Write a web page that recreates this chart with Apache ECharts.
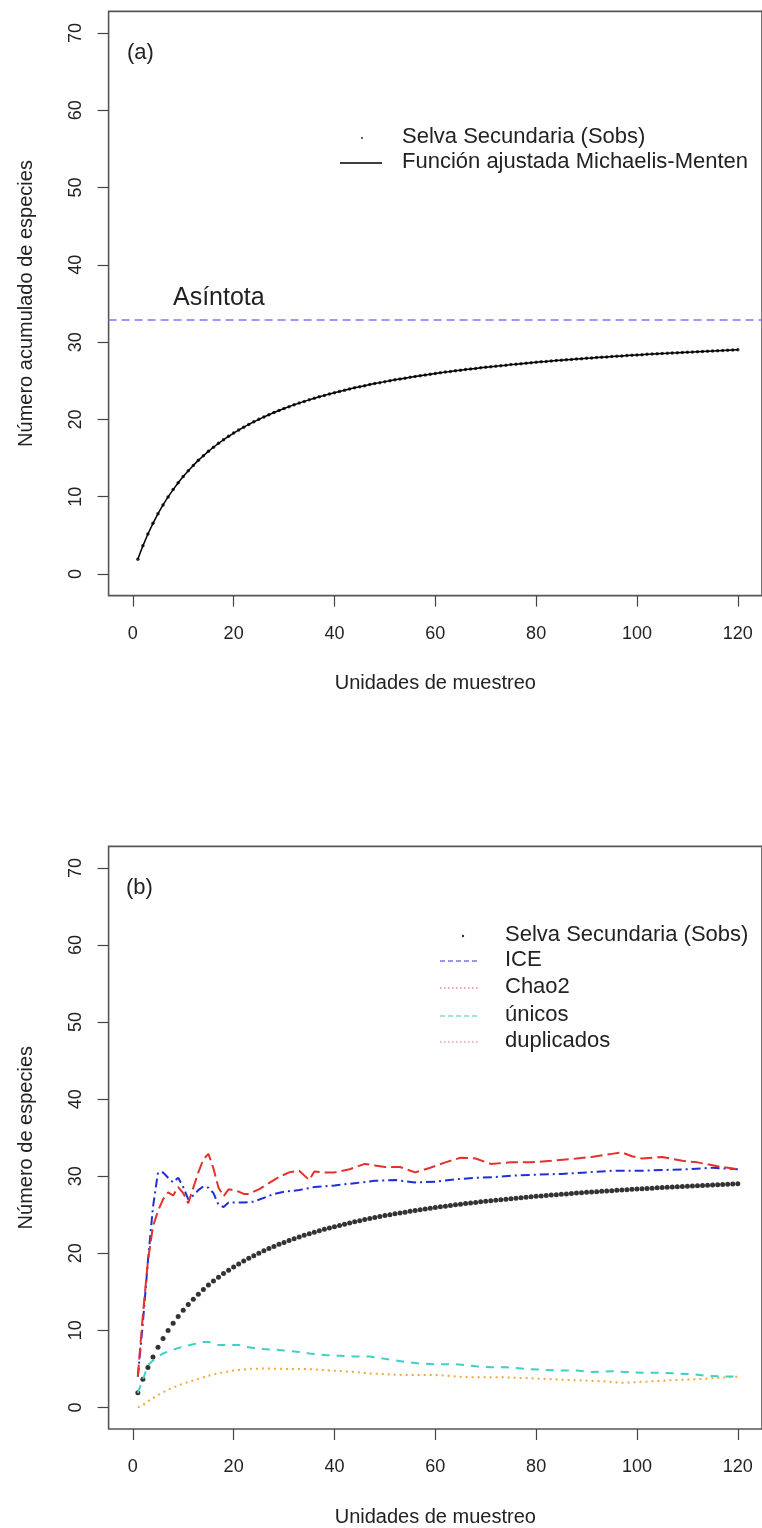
<!DOCTYPE html>
<html><head><meta charset="utf-8">
<script src="https://cdn.jsdelivr.net/npm/echarts@6/dist/echarts.min.js"></script>
<style>html,body{margin:0;padding:0;background:#fff}#c{width:762px;height:1528px}</style>
</head><body><div id="c"></div>
<script>
// ---- data ----
const xTicks = [0, 20, 40, 60, 80, 100, 120];
const yTicks = [0, 10, 20, 30, 40, 50, 60, 70];
const sampleUnits = Array.from({length: 120}, (_, i) => i + 1);
const sObs = [
 1.92,3.64,5.17,6.55,7.80,8.93,9.97,10.92,11.80,12.61,
 13.35,14.05,14.70,15.30,15.87,16.40,16.90,17.37,17.81,18.23,
 18.62,19.00,19.35,19.69,20.01,20.32,20.61,20.89,21.16,21.41,
 21.65,21.89,22.11,22.33,22.53,22.73,22.93,23.11,23.29,23.46,
 23.62,23.78,23.94,24.09,24.23,24.37,24.51,24.64,24.76,24.89,
 25.01,25.12,25.23,25.34,25.45,25.55,25.65,25.75,25.85,25.94,
 26.03,26.12,26.20,26.29,26.37,26.45,26.53,26.60,26.68,26.75,
 26.82,26.89,26.96,27.02,27.09,27.15,27.21,27.27,27.33,27.39,
 27.45,27.50,27.56,27.61,27.66,27.71,27.76,27.81,27.86,27.91,
 27.95,28.00,28.05,28.09,28.13,28.18,28.22,28.26,28.30,28.34,
 28.38,28.42,28.45,28.49,28.53,28.56,28.60,28.63,28.67,28.70,
 28.73,28.77,28.80,28.83,28.86,28.89,28.92,28.95,28.98,29.01];
const mmFit = sObs;            // fitted Michaelis-Menten curve (coincides with Sobs)
const asymptote = [32.9];

const iceX = [1,2,3,4,5,6,7,8,9,10,11,12,13,14,15,16,17,18,19,20,22,24,26,28,30,33,36,40,44,48,52,56,60,64,68,72,76,80,85,90,95,100,105,110,115,120];
const iceY = [4.0,11,19,26,30.5,30.5,29.8,29.2,29.8,28.6,27.0,27.5,28.2,28.7,28.5,27.8,26.3,26.0,26.6,26.6,26.6,26.7,27.2,27.7,28.0,28.2,28.6,28.8,29.1,29.4,29.5,29.2,29.3,29.6,29.8,29.9,30.1,30.2,30.3,30.5,30.7,30.7,30.8,30.9,31.1,30.9];

const chaoX = [1,2,3,4,5,6,7,8,9,10,11,12,13,14,15,16,17,18,19,20,21,22,23,25,27,29,31,33,35,36,38,40,43,46,48,50,53,56,59,62,65,68,71,75,79,83,88,91,95,97,99,101,105,109,112,116,120];
const chaoY = [4.0,12,19,23.5,25.5,27,27.9,27.5,28.6,27.8,26.5,28.5,30.5,32.2,32.9,31,28.5,27.4,28.3,28.2,28.0,27.7,27.7,28.3,29.1,29.9,30.5,30.7,29.5,30.6,30.5,30.5,30.9,31.6,31.4,31.2,31.2,30.5,31.1,31.8,32.4,32.3,31.6,31.8,31.8,32.0,32.3,32.5,32.9,33.1,32.6,32.3,32.5,32.0,31.8,31.3,30.9];

const unicosX = [1,2,3,4,5,6,8,10,12,14,15,17,19,21,23,25,28,30,33,35,38,41,44,47,50,54,57,60,64,68,71,74,78,81,84,88,91,95,98,101,105,108,111,114,118,120];
const unicosY = [1.9,3.6,5.5,6.1,6.6,7.0,7.5,7.9,8.2,8.5,8.5,8.1,8.1,8.1,7.8,7.6,7.5,7.4,7.2,7.0,6.8,6.7,6.6,6.6,6.3,5.9,5.7,5.6,5.6,5.35,5.2,5.2,5.0,4.9,4.8,4.8,4.6,4.7,4.6,4.5,4.5,4.4,4.3,4.1,4.0,4.0];

const dupX = [1,2,3,4,5,7,10,13,16,20,23,26,30,34,39,44,47,54,60,67,74,80,87,93,97,102,106,113,120];
const dupY = [0.0,0.3,0.8,1.2,1.6,2.3,3.1,3.7,4.3,4.8,5.0,5.05,5.0,5.0,4.8,4.6,4.4,4.2,4.2,3.9,3.9,3.75,3.55,3.4,3.2,3.35,3.5,3.7,4.0];

// ---- chart ----
const F = '"Liberation Sans", Arial, sans-serif';
const FN = '"Liberation Sans Narrow", "Liberation Sans", sans-serif';
const TXT = '#222';
const zip = (xs, ys) => xs.map((x, i) => [x, ys[i]]);

function xAx(g) {
  return {
    type: 'value', gridIndex: g, min: -4.8, max: 124.8,
    axisLine: {show: false, onZero: false}, splitLine: {show: false},
    axisTick: {show: true, length: 11, customValues: xTicks, lineStyle: {color: '#444', width: 1.2}},
    axisLabel: {customValues: xTicks, fontSize: 18, color: TXT, margin: 29, fontFamily: F},
    name: 'Unidades de muestreo', nameLocation: 'middle', nameGap: 78,
    nameTextStyle: {fontSize: 20, color: TXT, fontFamily: F}
  };
}
function yAx(g, name) {
  return {
    type: 'value', gridIndex: g, min: -2.8, max: 72.8,
    axisLine: {show: false, onZero: false}, splitLine: {show: false},
    axisTick: {show: true, length: 11, customValues: yTicks, lineStyle: {color: '#444', width: 1.2}},
    axisLabel: {customValues: yTicks, fontSize: 18, color: TXT, margin: 24, rotate: 90, fontFamily: F},
    name: name, nameLocation: 'middle', nameGap: 72, nameRotate: 90,
    nameTextStyle: {fontSize: 20, color: TXT, fontFamily: F}
  };
}

const chart = echarts.init(document.getElementById('c'), null, {renderer: 'canvas'});
const sobsPairs = zip(sampleUnits, sObs);

chart.setOption({
  animation: false,
  backgroundColor: '#fff',
  grid: [
    {left: 108.6, top: 11.4, width: 657.4, height: 584.2, show: true, borderColor: '#555', borderWidth: 1.6, backgroundColor: 'transparent'},
    {left: 108.6, top: 846.4, width: 657.4, height: 584.2, show: true, borderColor: '#555', borderWidth: 1.6, backgroundColor: 'transparent'}
  ],
  xAxis: [xAx(0), xAx(1)],
  yAxis: [yAx(0, 'Número acumulado de especies'), yAx(1, 'Número de especies')],
  series: [
    {type: 'line', xAxisIndex: 0, yAxisIndex: 0, data: zip(sampleUnits, mmFit), showSymbol: false, silent: true,
     lineStyle: {color: '#000', width: 1.5},
     markLine: {symbol: 'none', silent: true, label: {show: false},
       lineStyle: {color: '#7878FF', type: [8, 5], width: 1.6}, data: [{yAxis: asymptote[0]}]}},
    {type: 'scatter', xAxisIndex: 0, yAxisIndex: 0, data: sobsPairs, symbolSize: 3.5, itemStyle: {color: '#000'}, silent: true},

    {type: 'line', xAxisIndex: 1, yAxisIndex: 1, data: zip(dupX, dupY), showSymbol: false, silent: true,
     lineStyle: {color: '#F2A93B', width: 2, type: [2, 4]}},
    {type: 'line', xAxisIndex: 1, yAxisIndex: 1, data: zip(unicosX, unicosY), showSymbol: false, silent: true,
     lineStyle: {color: '#40CFC4', width: 2, type: [8, 7]}},
    {type: 'line', xAxisIndex: 1, yAxisIndex: 1, data: zip(iceX, iceY), showSymbol: false, silent: true,
     lineStyle: {color: '#1F2FD8', width: 2, type: [9, 4, 2, 4]}},
    {type: 'line', xAxisIndex: 1, yAxisIndex: 1, data: zip(chaoX, chaoY), showSymbol: false, silent: true,
     lineStyle: {color: '#E5302C', width: 2, type: [12, 5]}},
    {type: 'scatter', xAxisIndex: 1, yAxisIndex: 1, data: sobsPairs, symbolSize: 5, itemStyle: {color: '#000'}, silent: true}
  ],
  graphic: [
    {type: 'text', left: 127, top: 42, style: {text: '(a)', fontSize: 22, fontFamily: FN, fill: TXT}},
    {type: 'text', left: 126, top: 877, style: {text: '(b)', fontSize: 22, fontFamily: FN, fill: TXT}},
    {type: 'text', left: 173, top: 286, style: {text: 'Asíntota', fontSize: 25, fontFamily: FN, fill: TXT}},
    // legend (a)
    {type: 'circle', shape: {cx: 362, cy: 138, r: 1}, style: {fill: '#333'}},
    {type: 'line', shape: {x1: 340, y1: 163, x2: 382, y2: 163}, style: {stroke: '#000', lineWidth: 1.3}},
    {type: 'text', left: 402, top: 126, style: {text: 'Selva Secundaria (Sobs)', fontSize: 22, fontFamily: F, fill: TXT}},
    {type: 'text', left: 402, top: 151, style: {text: 'Función ajustada Michaelis-Menten', fontSize: 22, fontFamily: F, fill: TXT}},
    // legend (b)
    {type: 'circle', shape: {cx: 463, cy: 936, r: 1.2}, style: {fill: '#333'}},
    {type: 'line', shape: {x1: 440, y1: 961, x2: 480, y2: 961}, style: {stroke: '#3030C8', lineWidth: 1, lineDash: [5, 3]}},
    {type: 'line', shape: {x1: 440, y1: 988, x2: 480, y2: 988}, style: {stroke: '#E04848', lineWidth: 1, lineDash: [1.5, 2.5]}},
    {type: 'line', shape: {x1: 440, y1: 1016, x2: 480, y2: 1016}, style: {stroke: '#40C8C0', lineWidth: 1, lineDash: [5, 3]}},
    {type: 'line', shape: {x1: 440, y1: 1042, x2: 480, y2: 1042}, style: {stroke: '#D87093', lineWidth: 1, lineDash: [1.5, 2.5]}},
    {type: 'text', left: 505, top: 924, style: {text: 'Selva Secundaria (Sobs)', fontSize: 22, fontFamily: F, fill: TXT}},
    {type: 'text', left: 505, top: 949, style: {text: 'ICE', fontSize: 22, fontFamily: F, fill: TXT}},
    {type: 'text', left: 505, top: 976, style: {text: 'Chao2', fontSize: 22, fontFamily: F, fill: TXT}},
    {type: 'text', left: 505, top: 1004, style: {text: 'únicos', fontSize: 22, fontFamily: F, fill: TXT}},
    {type: 'text', left: 505, top: 1030, style: {text: 'duplicados', fontSize: 22, fontFamily: F, fill: TXT}}
  ]
});
</script></body></html>
